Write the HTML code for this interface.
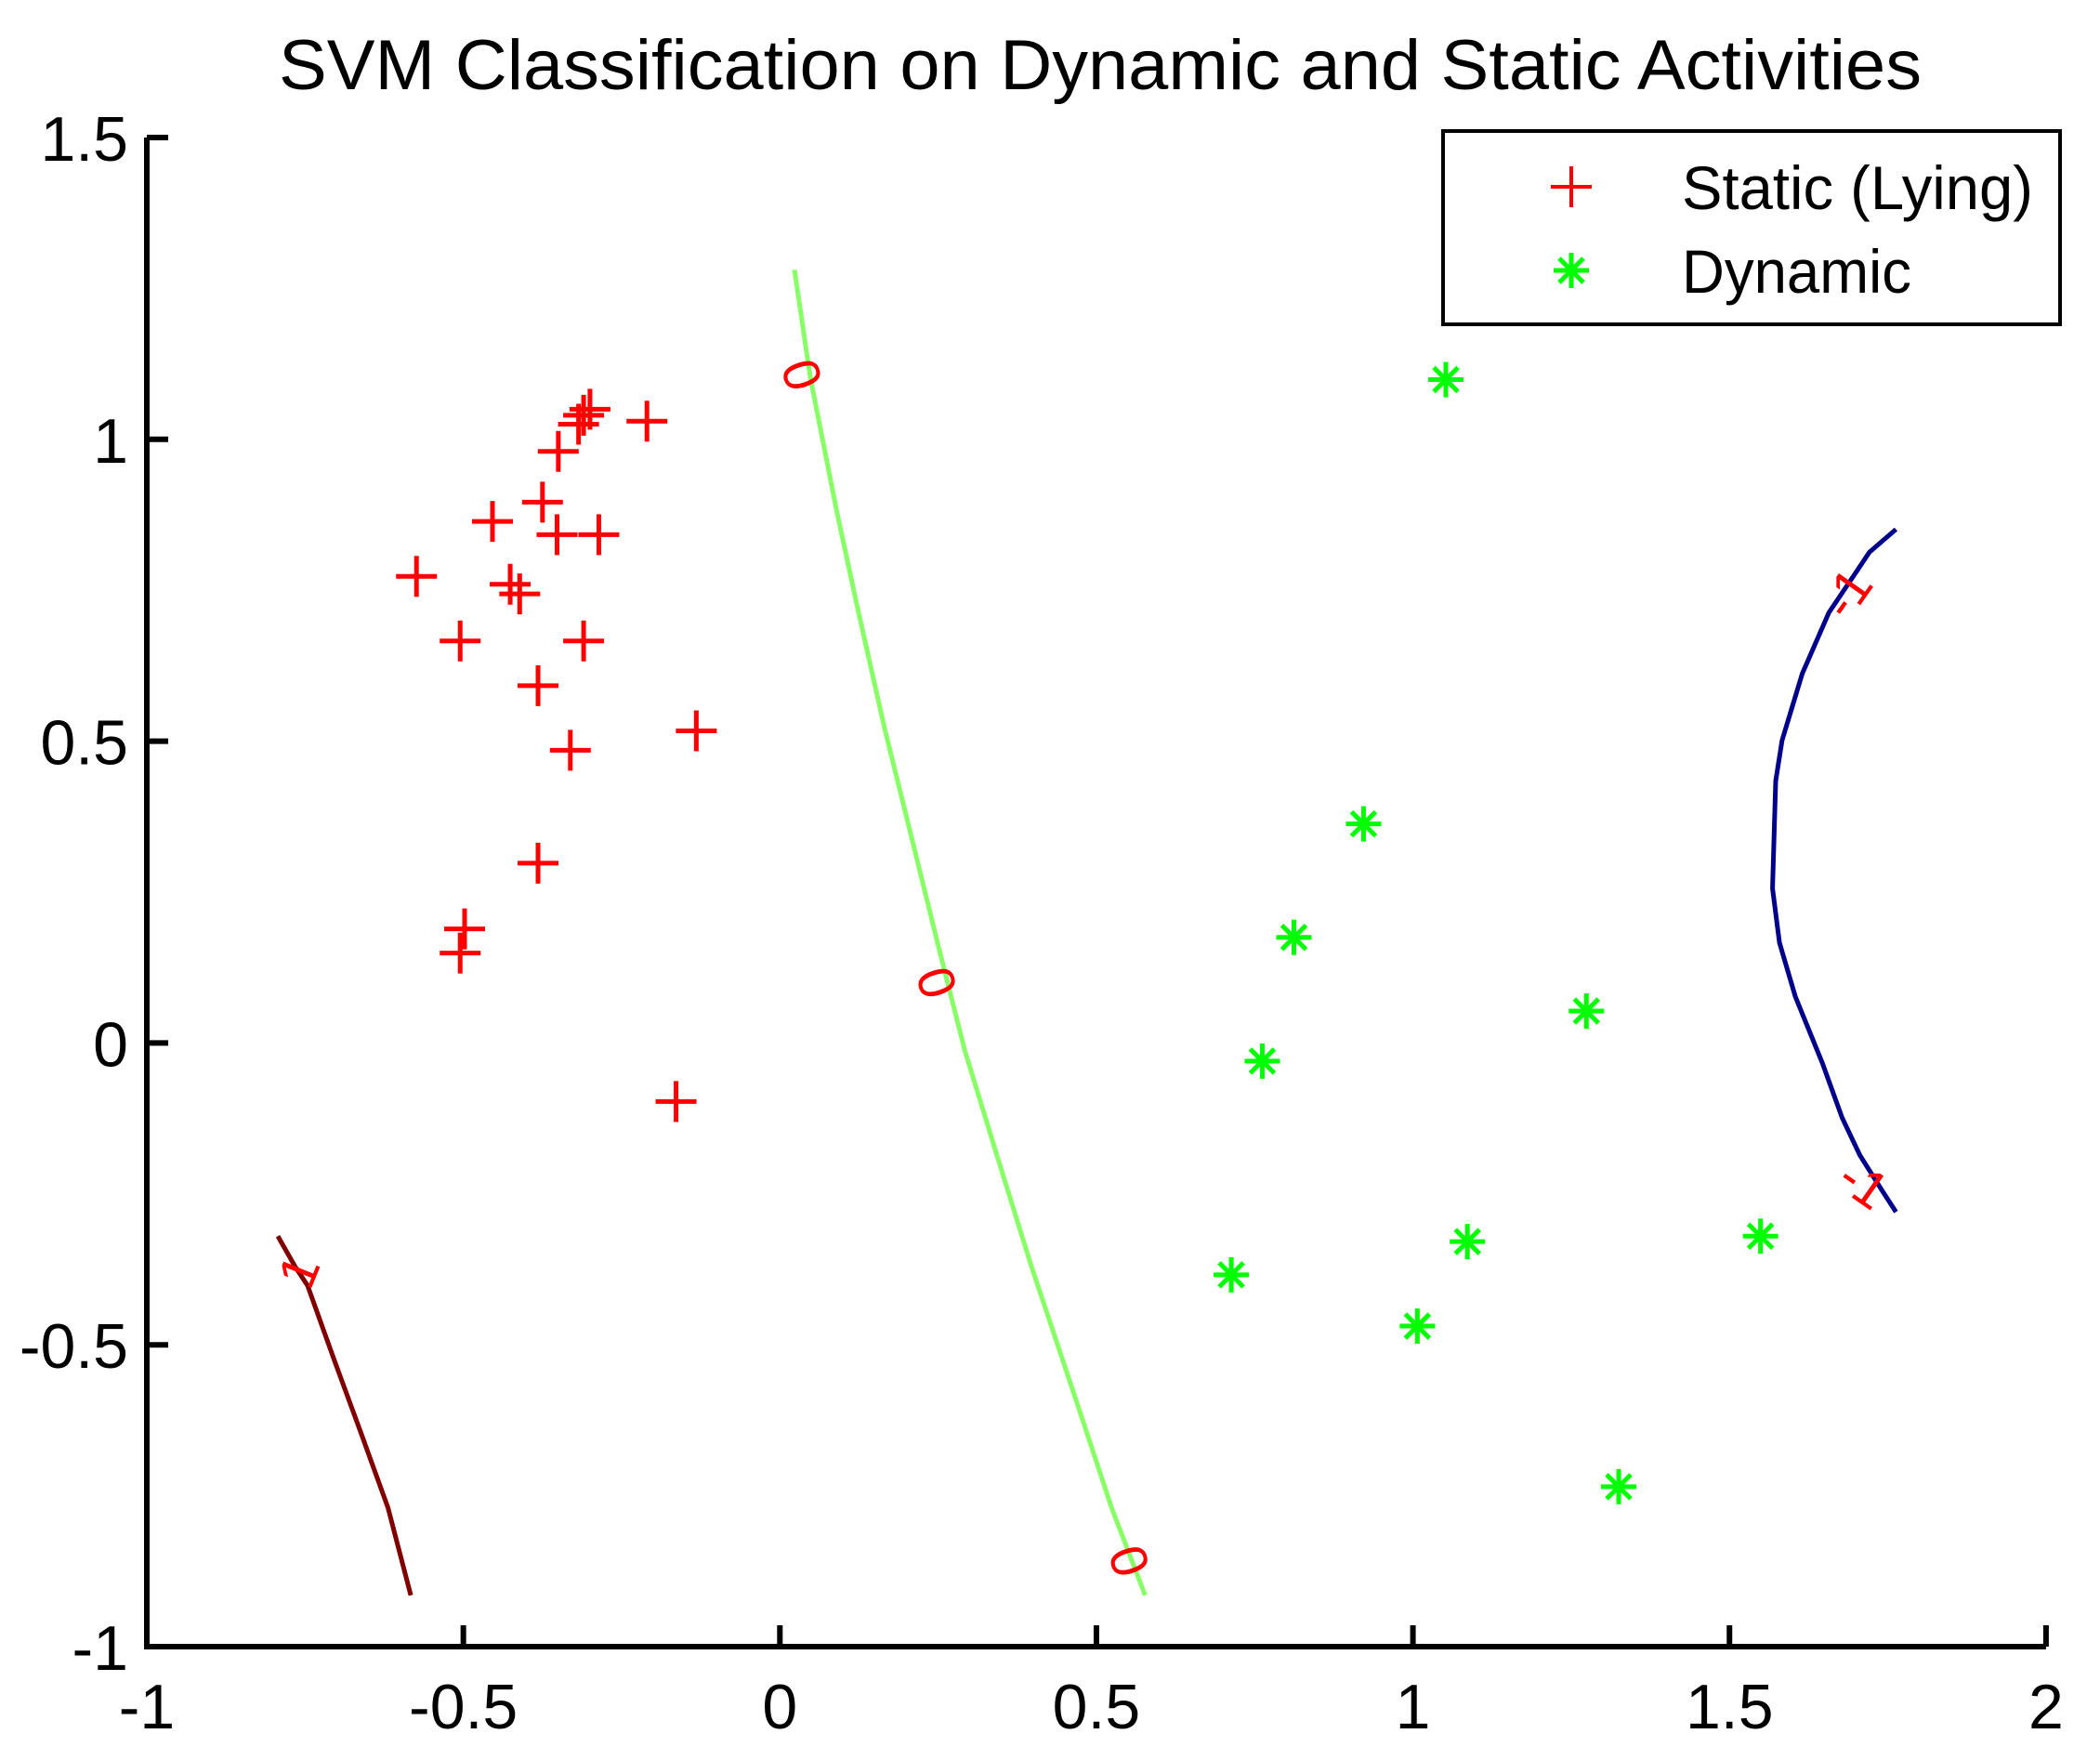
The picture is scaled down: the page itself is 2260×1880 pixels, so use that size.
<!DOCTYPE html>
<html><head><meta charset="utf-8"><style>
html,body{margin:0;padding:0;background:#fff;}
svg{display:block;font-family:"Liberation Sans",Arial,sans-serif;}
</style></head><body>
<svg id="chart" width="2260" height="1880" viewBox="0 0 2260 1880">
<rect width="2260" height="1880" fill="#fff"/>
<text x="1184" y="96" font-size="76" text-anchor="middle" fill="#000" textLength="1768" lengthAdjust="spacingAndGlyphs">SVM Classification on Dynamic and Static Activities</text>
<g id="plot"></g>
<g id="axes"></g>
<g>
<rect x="1553" y="141" width="664" height="208" fill="#fff" stroke="#000" stroke-width="4"/>
<g stroke="#f00" stroke-width="4"><line x1="1669" y1="201" x2="1713" y2="201"/><line x1="1691" y1="179" x2="1691" y2="223"/></g>
<text x="1810" y="225" font-size="66" textLength="378" lengthAdjust="spacingAndGlyphs">Static (Lying)</text>
<g stroke="#0f0" stroke-width="5"><line x1="1672" y1="291" x2="1710" y2="291"/><line x1="1691" y1="272" x2="1691" y2="310"/><line x1="1678" y1="278" x2="1704" y2="304"/><line x1="1704" y1="278" x2="1678" y2="304"/></g>
<text x="1810" y="315" font-size="66" textLength="247" lengthAdjust="spacingAndGlyphs">Dynamic</text>
</g>
</svg>
<script>
const xTicks=[-1,-0.5,0,0.5,1,1.5,2];
const yTicks=[-1,-0.5,0,0.5,1,1.5];
const xTickLabels=["-1","-0.5","0","0.5","1","1.5","2"];
const yTickLabels=["-1","-0.5","0","0.5","1","1.5"];
const staticX=[-0.574,-0.505,-0.454,-0.375,-0.426,-0.411,-0.350,-0.310,-0.318,-0.300,-0.210,-0.352,-0.286,-0.310,-0.382,-0.331,-0.132,-0.382,-0.498,-0.505,-0.164];
const staticY=[0.773,0.666,0.864,0.896,0.760,0.744,0.980,1.040,1.025,1.050,1.030,0.842,0.842,0.666,0.592,0.485,0.517,0.298,0.189,0.149,-0.097];
const dynamicX=[1.052,0.922,0.812,1.274,0.762,0.713,1.086,1.549,1.007,1.325];
const dynamicY=[1.099,0.363,0.175,0.053,-0.030,-0.384,-0.329,-0.320,-0.469,-0.735];
const zeroLineX=[0.023,0.048,0.090,0.122,0.165,0.207,0.249,0.292,0.344,0.397,0.461,0.524,0.577];
const zeroLineY=[1.281,1.103,0.880,0.724,0.523,0.345,0.166,-0.012,-0.190,-0.369,-0.570,-0.770,-0.915];
const posLineX=[-0.793,-0.766,-0.746,-0.704,-0.661,-0.619,-0.583];
const posLineY=[-0.320,-0.370,-0.402,-0.525,-0.648,-0.770,-0.915];
const negLineX=[1.763,1.721,1.700,1.657,1.615,1.583,1.573,1.568,1.579,1.604,1.647,1.678,1.706,1.742,1.763];
const negLineY=[0.851,0.813,0.780,0.713,0.612,0.501,0.434,0.256,0.166,0.077,-0.034,-0.124,-0.186,-0.246,-0.280];
const zeroLabelX=[0.035,0.248,0.552];
const zeroLabelY=[1.107,0.100,-0.858];

const NS="http://www.w3.org/2000/svg";
const X=v=>158+(v+1)*681.3;
const Y=v=>148+(1.5-v)*649.6;
const plot=document.getElementById('plot');
const axes=document.getElementById('axes');
function mk(tag,attrs,parent){const e=document.createElementNS(NS,tag);for(const k in attrs)e.setAttribute(k,attrs[k]);parent.appendChild(e);return e;}
function poly(xs,ys,color,name){
  const p=mk('polyline',{points:xs.map((x,i)=>X(x)+','+Y(ys[i])).join(' '),fill:'none',stroke:color,'stroke-width':5,'stroke-linejoin':'round'},plot);
  
  
}
poly(zeroLineX,zeroLineY,'#88ff66','contour-level-0');
poly(posLineX,posLineY,'#800000','contour-level-1');
poly(negLineX,negLineY,'#00008b','contour-level-minus-1');
function label(x,y,txt,rot,name){
  const t=mk('text',{x:0,y:0,'font-size':56,fill:'#f00','text-anchor':'middle','dominant-baseline':'central',transform:`translate(${X(x)},${Y(y)}) rotate(${rot})`},plot);
  t.textContent=txt;
  
  
}
zeroLabelX.forEach((x,i)=>label(x,zeroLabelY[i],'0',72,'contour-label-0'));
label(-0.76,-0.378,'1',-68,'contour-label-1');
label(1.685,0.745,'-1',-55,'contour-label-minus-1');
label(1.712,-0.233,'-1',35,'contour-label-minus-1');
staticX.forEach((x,i)=>{
  const cx=X(x),cy=Y(staticY[i]);
  const g=mk('g',{stroke:'#f00','stroke-width':5},plot);
  
  
  mk('line',{x1:cx-22,y1:cy,x2:cx+22,y2:cy},g);
  mk('line',{x1:cx,y1:cy-22,x2:cx,y2:cy+22},g);
});
dynamicX.forEach((x,i)=>{
  const cx=X(x),cy=Y(dynamicY[i]);
  const g=mk('g',{stroke:'#0f0','stroke-width':5},plot);
  
  
  mk('line',{x1:cx-19,y1:cy,x2:cx+19,y2:cy},g);
  mk('line',{x1:cx,y1:cy-19,x2:cx,y2:cy+19},g);
  mk('line',{x1:cx-13,y1:cy-13,x2:cx+13,y2:cy+13},g);
  mk('line',{x1:cx+13,y1:cy-13,x2:cx-13,y2:cy+13},g);
});
const ax=mk('path',{d:`M${X(-1)},${Y(1.5)} L${X(-1)},${Y(-1)} L${X(2)},${Y(-1)}`,fill:'none',stroke:'#000','stroke-width':6},axes);


xTicks.forEach((v,i)=>{
  const t=mk('line',{x1:X(v),y1:Y(-1),x2:X(v),y2:Y(-1)-23,stroke:'#000','stroke-width':6},axes);
  
  
  const l=mk('text',{x:X(v),y:1860,'font-size':68,'text-anchor':'middle'},axes);
  l.textContent=xTickLabels[i];
  
  
});
yTicks.forEach((v,i)=>{
  const t=mk('line',{x1:X(-1),y1:Y(v),x2:X(-1)+23,y2:Y(v),stroke:'#000','stroke-width':6},axes);
  
  
  const l=mk('text',{x:138,y:Y(v)+25,'font-size':68,'text-anchor':'end'},axes);
  l.textContent=yTickLabels[i];
  
  
});
</script>
</body></html>
